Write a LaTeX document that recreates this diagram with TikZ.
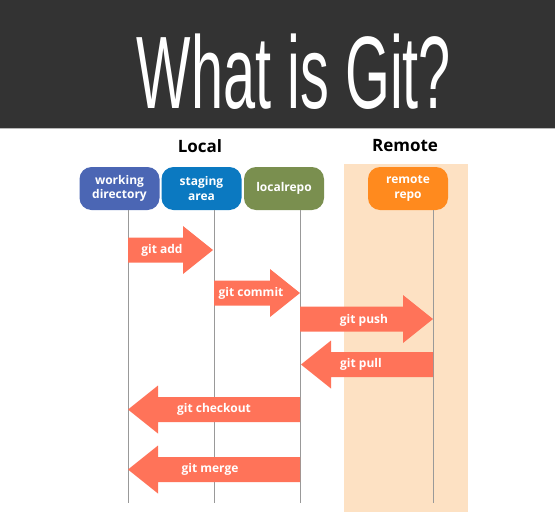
\documentclass[tikz,border=0pt]{standalone}
\usepackage{fontspec}
\setmainfont{Open Sans}
\newfontfamily\titlefont{Liberation Sans}
\usetikzlibrary{calc}
\definecolor{hdr}{HTML}{333333}
\definecolor{peach}{HTML}{FDE1C3}
\definecolor{wdblue}{HTML}{4B66B4}
\definecolor{sablue}{HTML}{0B79C1}
\definecolor{lrgreen}{HTML}{7A8F4F}
\definecolor{rrorange}{HTML}{FF8A1E}
\definecolor{coral}{HTML}{FF7359}
\definecolor{vline}{HTML}{999999}
\tikzset{
  stagebox/.style={rounded corners=12pt, minimum width=80pt, minimum height=43pt,
    text=white, font=\bfseries\fontsize{12}{14.5}\selectfont, align=center, inner sep=0pt},
  sectionlabel/.style={font=\bfseries\fontsize{17}{18}\selectfont, text=black},
  fatarrow/.style={fill=coral, draw=none},
  arrowlabel/.style={text=white, font=\bfseries\fontsize{12}{13}\selectfont},
  lifeline/.style={draw=vline, line width=0.8pt}
}
% #1 name, #2 start coordinate, #3 tip coordinate, #4 direction (+1 right, -1 left)
\newcommand\gitarrow[4]{%
  \path let \p1=(#2), \p2=(#3) in
    coordinate (#1-s1) at (\x1, \y2+12.5pt)
    coordinate (#1-s2) at ({\x2-#4*30pt}, \y2+12.5pt)
    coordinate (#1-h1) at ({\x2-#4*30pt}, \y2+24pt)
    coordinate (#1-h2) at ({\x2-#4*30pt}, \y2-24pt)
    coordinate (#1-s3) at ({\x2-#4*30pt}, \y2-12.5pt)
    coordinate (#1-s4) at (\x1, \y2-12.5pt);
  \fill[fatarrow] (#1-s1) -- (#1-s2) -- (#1-h1) -- (#3) -- (#1-h2) -- (#1-s3) -- (#1-s4) -- cycle;
}
\begin{document}
\begin{tikzpicture}[x=1pt,y=-1pt]
\useasboundingbox (0,0) rectangle (555,517);
% header
\fill[hdr] (0,0) rectangle (555,128);
\draw[vline!70, line width=1pt] (0,128.5) -- (555,128.5);
\node[text=white, font=\titlefont\fontsize{103}{103}\selectfont, xscale=0.56, anchor=base] (title) at (294,108) {What is Git?};
% remote background
\fill[peach] (344,164) rectangle (468,512);
% section labels
\node[sectionlabel] (local) at (200,146) {Local};
\node[sectionlabel] (remote) at (405,146) {Remote};
% boxes
\node[stagebox, fill=wdblue] (wd) at (119.5,188.5) {working\\directory};
\node[stagebox, fill=sablue] (sa) at (201.5,188.5) {staging\\area};
\node[stagebox, fill=lrgreen] (lr) at (284,188.5) {localrepo};
\node[stagebox, fill=rrorange] (rr) at (408,188.5) {remote\\repo};
% lifeline ends
\coordinate (wdE) at (128,503);
\coordinate (saE) at (214,503);
\coordinate (lrE) at (300,503);
\coordinate (rrE) at (433,503);
\draw[lifeline] (wd.south -| wdE) -- (wdE);
\draw[lifeline] (sa.south -| saE) -- (saE);
\draw[lifeline] (lr.south -| lrE) -- (lrE);
\draw[lifeline] (rr.south -| rrE) -- (rrE);
% arrow end points
\coordinate (addS) at (128,250);   \coordinate (addT) at (213,250);
\coordinate (comS) at (214,293);   \coordinate (comT) at (300,293);
\coordinate (pushS) at (300,319);  \coordinate (pushT) at (433,319);
\coordinate (pullS) at (433,364.5);  \coordinate (pullT) at (301,364.5);
\coordinate (coS) at (300,409.5);  \coordinate (coT) at (128,409.5);
\coordinate (mgS) at (300,469.5);  \coordinate (mgT) at (128,469.5);
\gitarrow{add}{addS}{addT}{1}
\gitarrow{com}{comS}{comT}{1}
\gitarrow{push}{pushS}{pushT}{1}
\gitarrow{pull}{pullS}{pullT}{-1}
\gitarrow{co}{coS}{coT}{-1}
\gitarrow{mg}{mgS}{mgT}{-1}
\node[arrowlabel] (addL) at (162,250.5) {git add};
\node[arrowlabel] (comL) at (251,293.5) {git commit};
\node[arrowlabel] (pushL) at (364,320.5) {git push};
\node[arrowlabel] (pullL) at (361,364.5) {git pull};
\node[arrowlabel] (coL) at (214,409.5) {git checkout};
\node[arrowlabel] (mgL) at (210,469.5) {git merge};
\end{tikzpicture}
\end{document}
